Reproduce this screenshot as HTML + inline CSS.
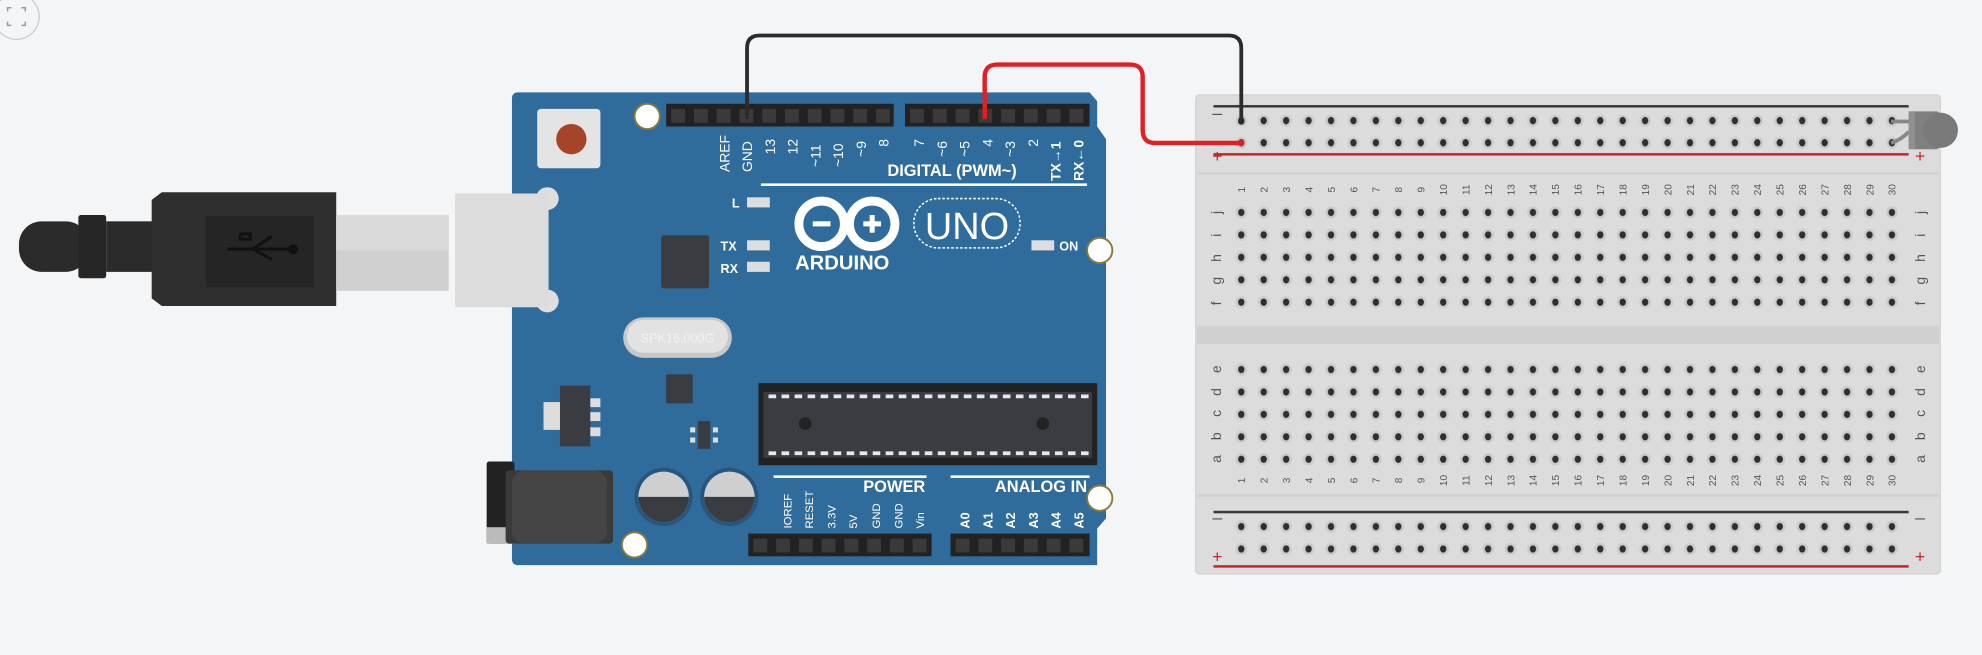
<!DOCTYPE html>
<html><head><meta charset="utf-8"><style>
html,body{margin:0;padding:0;background:#f4f5f7;}
svg{display:block}
text{font-family:"Liberation Sans","DejaVu Sans",sans-serif}
</style></head><body>
<svg width="1982" height="655" viewBox="0 0 1568 518" xmlns="http://www.w3.org/2000/svg">
<defs>
<pattern id="pa" patternUnits="userSpaceOnUse" x="973.125" y="159.125" width="17.75" height="17.75">
<ellipse cx="8.875" cy="8.875" rx="4.6" ry="4.8" fill="#cbcbcb"/><ellipse cx="8.875" cy="8.875" rx="2.5" ry="2.9" fill="#2f2f2f"/></pattern>
<pattern id="pb" patternUnits="userSpaceOnUse" x="973.125" y="86.6" width="17.75" height="17.5">
<ellipse cx="8.875" cy="8.75" rx="4.6" ry="4.8" fill="#cbcbcb"/><ellipse cx="8.875" cy="8.75" rx="2.5" ry="2.9" fill="#2f2f2f"/></pattern>
</defs>
<rect width="1568" height="518" fill="#f4f5f7"/>
<circle cx="13" cy="13" r="18" fill="none" stroke="#ccc" stroke-width="1"/>
<path d="M6 9V6h3M17 6h3v3M20 17v3h-3M9 20H6v-3" fill="none" stroke="#999" stroke-width="1.2"/>

<!-- USB plug -->
<rect x="15" y="175" width="55" height="40" rx="18" fill="#2b2b2b"/>
<rect x="62" y="170" width="22" height="50" rx="2" fill="#262626"/>
<rect x="84" y="175" width="40" height="40" fill="#2b2b2b"/>
<path d="M120 158 L128 152 L266 152 L266 242 L128 242 L120 236 Z" fill="#2f2f2f"/>
<rect x="163" y="171" width="85" height="56" fill="#252525"/>
<path d="M180 197h52M190 185v4h8v-4h-8M200 197l15-10M215 205l-15-8" stroke="#111" stroke-width="2.5" fill="none"/>
<circle cx="232" cy="197" r="4" fill="#111"/>
<rect x="266" y="170" width="89" height="60" fill="#d0d0d0"/>
<rect x="266" y="170" width="89" height="28" fill="#dadada"/>

<!-- Arduino board -->
<path d="M410 73 H862 L868 80 V100 L875 110 V410 L868 418 V447 H410 Q405 447 405 442 V78 Q405 73 410 73Z" fill="#2f6c9c"/>
<circle cx="433" cy="157" r="9" fill="#dedede"/><circle cx="433" cy="238" r="9" fill="#dedede"/>
<rect x="360" y="153" width="74" height="90" fill="#dcdcdc"/>
<rect x="425" y="86" width="50" height="47" rx="3" fill="#e4e4e4"/>
<circle cx="452" cy="110" r="12" fill="#a6442a"/>
<g fill="#fff" stroke="#8a7a3a" stroke-width="1.5">
<circle cx="512" cy="92" r="10"/><circle cx="870" cy="198" r="10"/><circle cx="870" cy="394" r="10"/><circle cx="502" cy="431" r="10"/></g>
<rect x="527" y="82" width="180" height="18" fill="#222"/>
<rect x="716" y="82" width="146" height="18" fill="#222"/>
<rect x="592" y="422" width="145" height="18" fill="#222"/>
<rect x="752" y="422" width="110" height="18" fill="#222"/>
<g fill="#fff" font-size="11">
<text transform="translate(577,136) rotate(-90)">AREF</text>
<text transform="translate(595,136) rotate(-90)">GND</text>
<text transform="translate(613,122) rotate(-90)">13</text>
<text transform="translate(631,122) rotate(-90)">12</text>
<text transform="translate(649,132) rotate(-90)">~11</text>
<text transform="translate(667,132) rotate(-90)">~10</text>
<text transform="translate(685,124) rotate(-90)">~9</text>
<text transform="translate(703,116) rotate(-90)">8</text>
<text transform="translate(731,116) rotate(-90)">7</text>
<text transform="translate(749,124) rotate(-90)">~6</text>
<text transform="translate(767,124) rotate(-90)">~5</text>
<text transform="translate(785,116) rotate(-90)">4</text>
<text transform="translate(803,124) rotate(-90)">~3</text>
<text transform="translate(821,116) rotate(-90)">2</text>
<text transform="translate(839,143) rotate(-90)" font-weight="bold">TX→1</text>
<text transform="translate(857,143) rotate(-90)" font-weight="bold">RX←0</text>
</g>
<text x="702" y="139" fill="#fff" font-size="13" font-weight="bold">DIGITAL (PWM~)</text>
<rect x="602" y="145" width="258" height="2" fill="#fff"/>
<g fill="#ddd"><rect x="591" y="156" width="18" height="8"/><rect x="591" y="190" width="18" height="8"/><rect x="591" y="207" width="18" height="8"/><rect x="816" y="190" width="18" height="8"/></g>
<g fill="#fff" font-size="10" font-weight="bold"><text x="579" y="164">L</text><text x="570" y="198">TX</text><text x="570" y="216">RX</text><text x="838" y="198">ON</text></g>
<rect x="523" y="186" width="38" height="42" rx="2" fill="#393d42"/>
<circle cx="650" cy="177" r="18" fill="none" stroke="#fff" stroke-width="7"/>
<circle cx="690" cy="177" r="18" fill="none" stroke="#fff" stroke-width="7"/>
<rect x="643" y="175" width="14" height="4" fill="#fff"/><rect x="683" y="175" width="14" height="4" fill="#fff"/><rect x="688" y="170" width="4" height="14" fill="#fff"/>
<text x="629" y="213" fill="#fff" font-size="16" font-weight="bold">ARDUINO</text>
<rect x="723" y="157" width="84" height="39" rx="19" fill="none" stroke="#fff" stroke-width="1.2" stroke-dasharray="2 1.5"/>
<text x="765" y="189" fill="#fff" font-size="30" text-anchor="middle">UNO</text>
<rect x="493" y="251" width="86" height="32" rx="16" fill="#c8c8c8"/>
<rect x="496" y="253" width="80" height="26" rx="13" fill="#e2e2e2"/>
<text x="536" y="271" fill="#f2f2f2" font-size="10" text-anchor="middle">SPK16.000G</text>
<rect x="527" y="296" width="21" height="23" fill="#393d42"/>
<rect x="430" y="318" width="14" height="22" fill="#ddd"/>
<rect x="443" y="305" width="24" height="48" fill="#393d42"/>
<g fill="#ddd"><rect x="467" y="315" width="8" height="7"/><rect x="467" y="326" width="8" height="7"/><rect x="467" y="338" width="8" height="7"/></g>
<rect x="552" y="333" width="10" height="22" fill="#393d42"/>
<g fill="#ddd"><rect x="546" y="338" width="4" height="4"/><rect x="546" y="346" width="4" height="4"/><rect x="564" y="338" width="4" height="4"/><rect x="564" y="346" width="4" height="4"/></g>
<rect x="600" y="303" width="268" height="65" fill="#222"/>
<rect x="604" y="310" width="260" height="52" fill="#393d42"/>
<path d="M608 313.5H864" stroke="#e8e8e8" stroke-width="3" stroke-dasharray="6 4.3"/>
<path d="M608 358.5H864" stroke="#e8e8e8" stroke-width="3" stroke-dasharray="6 4.3"/>
<circle cx="637" cy="335" r="5" fill="#222"/><circle cx="825" cy="335" r="5" fill="#222"/>
<rect x="385" y="365" width="22" height="65" rx="2" fill="#222"/>
<rect x="385" y="417" width="22" height="13" fill="#bbb"/>
<rect x="400" y="372" width="85" height="58" rx="3" fill="#3a3a3a"/>
<rect x="405" y="372" width="75" height="58" rx="10" fill="#454545"/>
<g><circle cx="525" cy="393" r="23" fill="#28557c"/><circle cx="525" cy="393" r="20" fill="#cfcfcf"/><path d="M505 393 A20 20 0 0 0 545 393 Z" fill="#393d42"/>
<circle cx="577" cy="393" r="23" fill="#28557c"/><circle cx="577" cy="393" r="20" fill="#cfcfcf"/><path d="M557 393 A20 20 0 0 0 597 393 Z" fill="#393d42"/></g>
<rect x="612" y="376" width="121" height="2" fill="#fff"/><rect x="752" y="376" width="110" height="2" fill="#fff"/>
<text x="732" y="389" fill="#fff" font-size="13" font-weight="bold" text-anchor="end">POWER</text>
<text x="860" y="389" fill="#fff" font-size="13" font-weight="bold" text-anchor="end">ANALOG IN</text>
<g fill="#fff" font-size="9">
<text transform="translate(626,418) rotate(-90)">IOREF</text>
<text transform="translate(643,418) rotate(-90)">RESET</text>
<text transform="translate(661,418) rotate(-90)">3.3V</text>
<text transform="translate(678,418) rotate(-90)">5V</text>
<text transform="translate(696,418) rotate(-90)">GND</text>
<text transform="translate(714,418) rotate(-90)">GND</text>
<text transform="translate(731,418) rotate(-90)">Vin</text>
</g>
<g fill="#fff" font-size="10" font-weight="bold">
<text transform="translate(767,418) rotate(-90)">A0</text><text transform="translate(785,418) rotate(-90)">A1</text><text transform="translate(803,418) rotate(-90)">A2</text><text transform="translate(821,418) rotate(-90)">A3</text><text transform="translate(839,418) rotate(-90)">A4</text><text transform="translate(857,418) rotate(-90)">A5</text>
</g>
<g fill="#3a3a3a">
<path d="M531 86h11v11h-11zM549 86h11v11h-11zM567 86h11v11h-11zM585 86h11v11h-11zM603 86h11v11h-11zM621 86h11v11h-11zM639 86h11v11h-11zM657 86h11v11h-11zM675 86h11v11h-11zM693 86h11v11h-11z"/>
<path d="M720 86h11v11h-11zM738 86h11v11h-11zM756 86h11v11h-11zM774 86h11v11h-11zM792 86h11v11h-11zM810 86h11v11h-11zM828 86h11v11h-11zM846 86h11v11h-11z"/>
<path d="M596 426h11v11h-11zM614 426h11v11h-11zM632 426h11v11h-11zM650 426h11v11h-11zM668 426h11v11h-11zM686 426h11v11h-11zM704 426h11v11h-11zM722 426h11v11h-11z"/>
<path d="M756 426h11v11h-11zM774 426h11v11h-11zM792 426h11v11h-11zM810 426h11v11h-11zM828 426h11v11h-11zM846 426h11v11h-11z"/>
</g>

<!-- Breadboard -->
<rect x="946" y="75" width="589" height="379" rx="3" fill="#dcdcdc" stroke="#d2d2d2"/>
<rect x="947" y="136" width="587" height="2" fill="#d0d0d0"/>
<rect x="947" y="391" width="587" height="2" fill="#d0d0d0"/>
<rect x="947" y="258" width="587" height="14" fill="#d0d0d0"/>
<rect x="960" y="83" width="550" height="2" fill="#3a3a3a"/>
<rect x="960" y="121" width="550" height="2" fill="#c62828"/>
<rect x="960" y="404" width="550" height="2" fill="#3a3a3a"/>
<rect x="960" y="447" width="550" height="2" fill="#c62828"/>
<g font-size="14" text-anchor="middle"><text x="963" y="94" fill="#555">–</text><text x="1519" y="94" fill="#555">–</text>
<text x="963" y="128" fill="#c62828">+</text><text x="1519" y="128" fill="#c62828">+</text>
<text x="963" y="414" fill="#555">–</text><text x="1519" y="414" fill="#555">–</text>
<text x="963" y="445" fill="#c62828">+</text><text x="1519" y="445" fill="#c62828">+</text></g>
<rect x="973" y="87" width="532" height="35" fill="url(#pb)"/>
<rect x="973" y="159" width="532" height="89" fill="url(#pa)"/>
<rect x="973" y="283" width="532" height="89" fill="url(#pa)"/>
<rect x="973" y="407" width="532" height="36" fill="url(#pa)"/>
<g fill="#555" font-size="11" text-anchor="middle">
<text transform="translate(966,168) rotate(-90)">j</text><text transform="translate(966,186) rotate(-90)">i</text><text transform="translate(966,204) rotate(-90)">h</text><text transform="translate(966,222) rotate(-90)">g</text><text transform="translate(966,240) rotate(-90)">f</text>
<text transform="translate(966,292) rotate(-90)">e</text><text transform="translate(966,310) rotate(-90)">d</text><text transform="translate(966,327) rotate(-90)">c</text><text transform="translate(966,345) rotate(-90)">b</text><text transform="translate(966,363) rotate(-90)">a</text>
<text transform="translate(1523,168) rotate(-90)">j</text><text transform="translate(1523,186) rotate(-90)">i</text><text transform="translate(1523,204) rotate(-90)">h</text><text transform="translate(1523,222) rotate(-90)">g</text><text transform="translate(1523,240) rotate(-90)">f</text>
<text transform="translate(1523,292) rotate(-90)">e</text><text transform="translate(1523,310) rotate(-90)">d</text><text transform="translate(1523,327) rotate(-90)">c</text><text transform="translate(1523,345) rotate(-90)">b</text><text transform="translate(1523,363) rotate(-90)">a</text>
</g>
<g fill="#555" font-size="8" text-anchor="middle">
<g>
<text transform="translate(985,150) rotate(-90)">1</text><text transform="translate(1002.75,150) rotate(-90)">2</text><text transform="translate(1020.5,150) rotate(-90)">3</text><text transform="translate(1038.25,150) rotate(-90)">4</text><text transform="translate(1056,150) rotate(-90)">5</text><text transform="translate(1073.75,150) rotate(-90)">6</text><text transform="translate(1091.5,150) rotate(-90)">7</text><text transform="translate(1109.25,150) rotate(-90)">8</text><text transform="translate(1127,150) rotate(-90)">9</text><text transform="translate(1144.75,150) rotate(-90)">10</text><text transform="translate(1162.5,150) rotate(-90)">11</text><text transform="translate(1180.25,150) rotate(-90)">12</text><text transform="translate(1198,150) rotate(-90)">13</text><text transform="translate(1215.75,150) rotate(-90)">14</text><text transform="translate(1233.5,150) rotate(-90)">15</text><text transform="translate(1251.25,150) rotate(-90)">16</text><text transform="translate(1269,150) rotate(-90)">17</text><text transform="translate(1286.75,150) rotate(-90)">18</text><text transform="translate(1304.5,150) rotate(-90)">19</text><text transform="translate(1322.25,150) rotate(-90)">20</text><text transform="translate(1340,150) rotate(-90)">21</text><text transform="translate(1357.75,150) rotate(-90)">22</text><text transform="translate(1375.5,150) rotate(-90)">23</text><text transform="translate(1393.25,150) rotate(-90)">24</text><text transform="translate(1411,150) rotate(-90)">25</text><text transform="translate(1428.75,150) rotate(-90)">26</text><text transform="translate(1446.5,150) rotate(-90)">27</text><text transform="translate(1464.25,150) rotate(-90)">28</text><text transform="translate(1482,150) rotate(-90)">29</text><text transform="translate(1499.75,150) rotate(-90)">30</text>
</g>
<g transform="translate(0,230)">
<text transform="translate(985,150) rotate(-90)">1</text><text transform="translate(1002.75,150) rotate(-90)">2</text><text transform="translate(1020.5,150) rotate(-90)">3</text><text transform="translate(1038.25,150) rotate(-90)">4</text><text transform="translate(1056,150) rotate(-90)">5</text><text transform="translate(1073.75,150) rotate(-90)">6</text><text transform="translate(1091.5,150) rotate(-90)">7</text><text transform="translate(1109.25,150) rotate(-90)">8</text><text transform="translate(1127,150) rotate(-90)">9</text><text transform="translate(1144.75,150) rotate(-90)">10</text><text transform="translate(1162.5,150) rotate(-90)">11</text><text transform="translate(1180.25,150) rotate(-90)">12</text><text transform="translate(1198,150) rotate(-90)">13</text><text transform="translate(1215.75,150) rotate(-90)">14</text><text transform="translate(1233.5,150) rotate(-90)">15</text><text transform="translate(1251.25,150) rotate(-90)">16</text><text transform="translate(1269,150) rotate(-90)">17</text><text transform="translate(1286.75,150) rotate(-90)">18</text><text transform="translate(1304.5,150) rotate(-90)">19</text><text transform="translate(1322.25,150) rotate(-90)">20</text><text transform="translate(1340,150) rotate(-90)">21</text><text transform="translate(1357.75,150) rotate(-90)">22</text><text transform="translate(1375.5,150) rotate(-90)">23</text><text transform="translate(1393.25,150) rotate(-90)">24</text><text transform="translate(1411,150) rotate(-90)">25</text><text transform="translate(1428.75,150) rotate(-90)">26</text><text transform="translate(1446.5,150) rotate(-90)">27</text><text transform="translate(1464.25,150) rotate(-90)">28</text><text transform="translate(1482,150) rotate(-90)">29</text><text transform="translate(1499.75,150) rotate(-90)">30</text>
</g></g>
<path d="M1496 96 H1512 M1496 113 Q1505 110 1510 104" stroke="#888" stroke-width="3" fill="none"/>
<rect x="1510" y="88" width="24" height="30" rx="2" fill="#808080"/>
<circle cx="1535" cy="103" r="14" fill="#7a7a7a"/>
<rect x="1510" y="88" width="5" height="30" fill="#909090"/>

<path d="M591 94 V38 Q591 28 601 28 H972 Q982 28 982 38 V96" fill="none" stroke="#2b2b2b" stroke-width="3"/>
<path d="M779 94 V61 Q779 51 789 51 H894 Q904 51 904 61 V103 Q904 113 914 113 H982" fill="none" stroke="#e41e25" stroke-width="3.5"/>
<circle cx="982" cy="96" r="2.5" fill="#2b2b2b"/><circle cx="982" cy="113" r="2.5" fill="#e41e25"/>
</svg>
</body></html>
